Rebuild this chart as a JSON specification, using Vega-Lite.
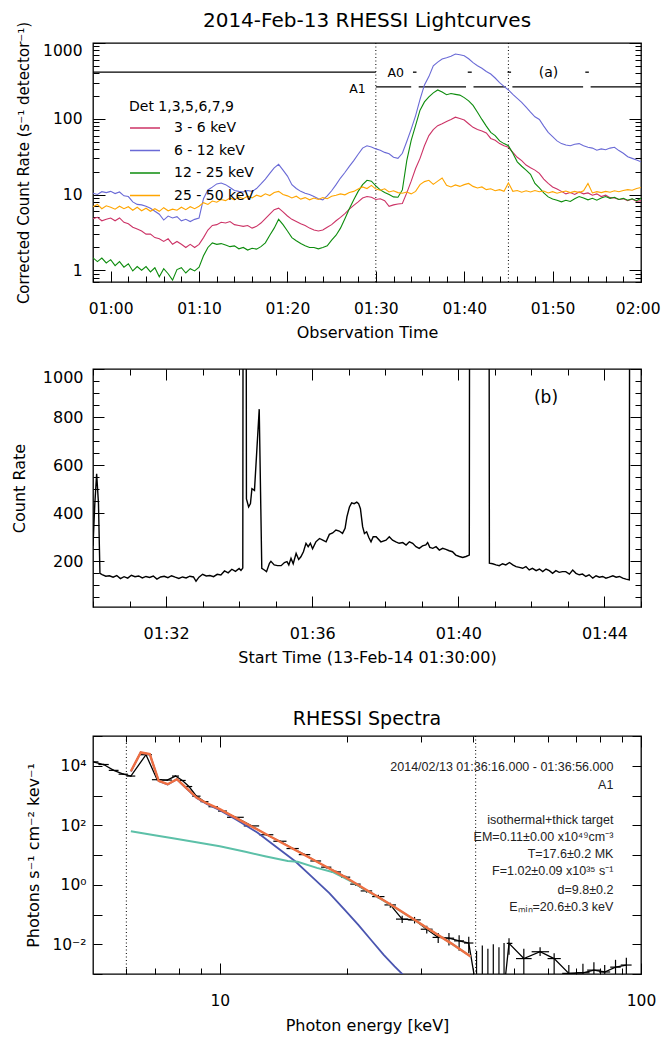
{
"$schema": "https://vega.github.io/schema/vega-lite/v6.json",
"padding": {"left": 10, "top": 10, "right": 0, "bottom": 0},
"spacing": 25,
"config": {
 "font": "DejaVu Sans",
 "view": {"stroke": "black", "strokeWidth": 1.3},
 "axis": {"domain": false, "grid": false, "tickColor": "black", "tickWidth": 1, "labelColor": "black", "titleColor": "black", "labelFontSize": 15.5, "titleFontSize": 16, "titleFontWeight": "normal", "labelOverlap": false, "labelBound": false},
 "title": {"color": "black", "fontWeight": "normal"}
},
"datasets": {
 "lc": [
{"t":58,"r":4.8,"b":10.4,"g":1.46,"o":6.9},{"t":58.5,"r":5.0,"b":10.0,"g":1.30,"o":7.4},{"t":59,"r":4.5,"b":10.9,"g":1.45,"o":6.5},{"t":59.5,"r":4.7,"b":10.6,"g":1.25,"o":7.1},
{"t":60,"r":4.9,"b":11.0,"g":1.38,"o":6.8},{"t":60.5,"r":4.5,"b":10.3,"g":1.15,"o":6.4},{"t":61,"r":4.9,"b":10.8,"g":1.30,"o":7.0},{"t":61.5,"r":4.3,"b":9.6,"g":1.10,"o":6.5},
{"t":62,"r":4.1,"b":9.4,"g":1.22,"o":6.9},{"t":62.5,"r":3.7,"b":8.0,"g":0.98,"o":6.2},{"t":63,"r":3.5,"b":7.4,"g":1.12,"o":6.8},{"t":63.5,"r":3.3,"b":7.3,"g":1.00,"o":6.1},
{"t":64,"r":3.0,"b":7.0,"g":1.12,"o":6.6},{"t":64.5,"r":3.0,"b":6.6,"g":0.95,"o":6.0},{"t":65,"r":2.7,"b":6.0,"g":1.08,"o":6.5},{"t":65.5,"r":2.6,"b":5.5,"g":0.82,"o":6.0},
{"t":66,"r":2.4,"b":4.6,"g":1.05,"o":6.7},{"t":66.5,"r":2.6,"b":5.2,"g":0.90,"o":6.1},{"t":67,"r":2.2,"b":4.9,"g":0.74,"o":6.4},{"t":67.5,"r":2.4,"b":5.1,"g":1.02,"o":6.2},
{"t":68,"r":2.2,"b":4.5,"g":1.08,"o":6.8},{"t":68.5,"r":2.0,"b":4.7,"g":0.92,"o":6.3},{"t":69,"r":2.2,"b":4.4,"g":1.05,"o":6.9},{"t":69.5,"r":2.0,"b":4.7,"g":0.98,"o":6.5},
{"t":70,"r":2.2,"b":4.9,"g":1.10,"o":7.0},{"t":70.5,"r":2.7,"b":8.8,"g":1.55,"o":7.8},{"t":71,"r":3.4,"b":11.5,"g":2.0,"o":7.4},{"t":71.5,"r":3.9,"b":12.5,"g":2.3,"o":8.2},
{"t":72,"r":4.0,"b":13.8,"g":2.2,"o":7.9},{"t":72.5,"r":4.3,"b":14.2,"g":2.25,"o":8.6},{"t":73,"r":4.2,"b":13.5,"g":2.15,"o":8.3},{"t":73.5,"r":4.4,"b":12.4,"g":2.05,"o":9.0},
{"t":74,"r":4.0,"b":11.3,"g":2.1,"o":8.5},{"t":74.5,"r":3.9,"b":11.0,"g":1.92,"o":9.3},{"t":75,"r":3.8,"b":10.8,"g":2.0,"o":8.8},{"t":75.5,"r":3.9,"b":11.3,"g":1.85,"o":9.5},
{"t":76,"r":3.6,"b":11.0,"g":1.95,"o":9.0},{"t":76.5,"r":3.8,"b":12.0,"g":1.90,"o":9.8},{"t":77,"r":4.2,"b":13.8,"g":2.05,"o":9.4},{"t":77.5,"r":4.8,"b":16.0,"g":2.3,"o":10.2},
{"t":78,"r":5.5,"b":19.0,"g":2.9,"o":9.7},{"t":78.5,"r":6.3,"b":22.5,"g":3.6,"o":10.6},{"t":79,"r":6.6,"b":25.0,"g":4.7,"o":11.0},{"t":79.5,"r":5.9,"b":21.0,"g":4.0,"o":10.0},
{"t":80,"r":5.2,"b":17.5,"g":3.3,"o":9.6},{"t":80.5,"r":4.7,"b":13.5,"g":2.7,"o":9.0},{"t":81,"r":4.4,"b":12.0,"g":2.45,"o":9.5},{"t":81.5,"r":4.1,"b":11.0,"g":2.25,"o":8.7},
{"t":82,"r":3.9,"b":10.4,"g":2.1,"o":9.1},{"t":82.5,"r":3.6,"b":10.0,"g":2.0,"o":8.5},{"t":83,"r":3.4,"b":9.4,"g":2.0,"o":9.0},{"t":83.5,"r":3.3,"b":8.8,"g":1.92,"o":8.6},
{"t":84,"r":3.4,"b":8.5,"g":2.0,"o":9.1},{"t":84.5,"r":3.7,"b":9.6,"g":2.1,"o":8.8},{"t":85,"r":4.0,"b":11.2,"g":2.5,"o":9.5},{"t":85.5,"r":4.5,"b":13.5,"g":2.9,"o":9.8},
{"t":86,"r":5.0,"b":16.5,"g":3.6,"o":10.2},{"t":86.5,"r":5.6,"b":19.5,"g":4.8,"o":9.9},{"t":87,"r":6.4,"b":23.5,"g":6.5,"o":10.6},{"t":87.5,"r":7.2,"b":28.0,"g":8.5,"o":11.0},
{"t":88,"r":8.0,"b":34.0,"g":11.0,"o":11.8},{"t":88.5,"r":9.0,"b":41.0,"g":13.5,"o":12.6},{"t":89,"r":9.4,"b":44.0,"g":15.4,"o":12.0},{"t":89.5,"r":9.2,"b":42.5,"g":15.0,"o":13.2},
{"t":90,"r":8.6,"b":40.0,"g":13.0,"o":11.8},{"t":90.5,"r":8.8,"b":38.5,"g":11.5,"o":11.4},{"t":91,"r":8.3,"b":36.0,"g":10.6,"o":11.9},{"t":91.5,"r":7.0,"b":34.5,"g":10.0,"o":10.8},
{"t":92,"r":7.3,"b":31.0,"g":9.3,"o":11.2},{"t":92.5,"r":7.5,"b":30.0,"g":9.2,"o":10.6},{"t":93,"r":7.6,"b":35.0,"g":11.5,"o":10.4},{"t":93.5,"r":10.5,"b":50.0,"g":28.0,"o":10.8},
{"t":94,"r":15.0,"b":73.0,"g":52.0,"o":10.2},{"t":94.5,"r":22.0,"b":110,"g":82,"o":11.0},{"t":95,"r":30.0,"b":180,"g":130,"o":13.5},{"t":95.5,"r":44.0,"b":280,"g":167,"o":14.8},
{"t":96,"r":60.0,"b":360,"g":195,"o":15.4},{"t":96.5,"r":72.0,"b":500,"g":220,"o":13.6},{"t":97,"r":81.0,"b":560,"g":240,"o":15.0},{"t":97.5,"r":86.0,"b":615,"g":225,"o":16.5},
{"t":98,"r":92.0,"b":640,"g":208,"o":13.2},{"t":98.5,"r":98.0,"b":670,"g":215,"o":12.6},{"t":99,"r":105,"b":715,"g":210,"o":13.4},{"t":99.5,"r":101,"b":700,"g":205,"o":12.8},
{"t":100,"r":96.0,"b":680,"g":190,"o":13.5},{"t":100.5,"r":86.0,"b":620,"g":172,"o":14.0},{"t":101,"r":77.0,"b":550,"g":150,"o":12.8},{"t":101.5,"r":72.0,"b":500,"g":122,"o":12.2},
{"t":102,"r":69.0,"b":465,"g":98,"o":12.6},{"t":102.5,"r":65.0,"b":420,"g":80,"o":11.6},{"t":103,"r":55.0,"b":390,"g":66,"o":11.9},{"t":103.5,"r":52.0,"b":345,"g":60,"o":11.2},
{"t":104,"r":47.0,"b":300,"g":51,"o":11.6},{"t":104.5,"r":44.0,"b":268,"g":47,"o":11.0},{"t":105,"r":42.0,"b":240,"g":44,"o":14.2},{"t":105.5,"r":36.0,"b":210,"g":35,"o":11.0},
{"t":106,"r":31.0,"b":186,"g":27,"o":11.3},{"t":106.5,"r":28.0,"b":165,"g":23.6,"o":10.7},{"t":107,"r":24.5,"b":142,"g":21,"o":11.2},{"t":107.5,"r":22.5,"b":122,"g":18.5,"o":10.8},
{"t":108,"r":21.0,"b":106,"g":14.0,"o":11.3},{"t":108.5,"r":19.0,"b":98,"g":12.2,"o":10.9},{"t":109,"r":16.0,"b":80,"g":10.5,"o":11.1},{"t":109.5,"r":14.0,"b":66,"g":9.3,"o":10.5},
{"t":110,"r":12.6,"b":58,"g":8.7,"o":10.9},{"t":110.5,"r":11.8,"b":51,"g":8.4,"o":10.4},{"t":111,"r":11.0,"b":47,"g":8.0,"o":10.8},{"t":111.5,"r":10.2,"b":45,"g":8.4,"o":11.1},
{"t":112,"r":10.6,"b":44,"g":8.1,"o":10.6},{"t":112.5,"r":10.0,"b":46,"g":8.8,"o":11.0},{"t":113,"r":10.8,"b":47,"g":9.4,"o":10.6},{"t":113.5,"r":10.2,"b":44,"g":9.0,"o":11.2},
{"t":114,"r":10.5,"b":42,"g":8.5,"o":14.0},{"t":114.5,"r":9.8,"b":41,"g":8.9,"o":10.5},{"t":115,"r":10.2,"b":38.5,"g":8.4,"o":10.9},{"t":115.5,"r":9.4,"b":40.0,"g":9.0,"o":10.6},
{"t":116,"r":9.8,"b":39.0,"g":9.4,"o":11.0},{"t":116.5,"r":9.1,"b":41.0,"g":8.9,"o":10.7},{"t":117,"r":9.0,"b":42.0,"g":9.2,"o":11.2},{"t":117.5,"r":8.6,"b":38.0,"g":8.6,"o":10.9},
{"t":118,"r":8.8,"b":35.0,"g":8.9,"o":11.3},{"t":118.5,"r":8.3,"b":31.5,"g":8.4,"o":11.6},{"t":119,"r":8.7,"b":30.0,"g":8.8,"o":11.4},{"t":119.5,"r":8.1,"b":28.5,"g":8.3,"o":12.0},
{"t":120,"r":8.3,"b":27.0,"g":8.9,"o":12.4}
 ],
 "att": [
{"t1":58,"t2":90,"lvl":412},
{"t1":94.2,"t2":94.6,"lvl":412},{"t1":100.4,"t2":100.85,"lvl":412},{"t1":104.9,"t2":105.3,"lvl":412},{"t1":113.7,"t2":114.1,"lvl":412},
{"t1":90,"t2":94.0,"lvl":264},{"t1":94.85,"t2":100.2,"lvl":264},{"t1":101.05,"t2":104.7,"lvl":264},{"t1":105.45,"t2":113.45,"lvl":264},{"t1":114.3,"t2":120,"lvl":264}
 ],
 "cr": [
{"t":90.00,"c":265},{"t":90.05,"c":440},{"t":90.10,"c":564},{"t":90.15,"c":440},{"t":90.19,"c":150},{"t":90.25,"c":145},{"t":90.35,"c":138},{"t":90.45,"c":140},
{"t":90.55,"c":134},{"t":90.65,"c":141},{"t":90.75,"c":128},{"t":90.85,"c":136},{"t":90.95,"c":130},{"t":91.05,"c":142},{"t":91.15,"c":136},{"t":91.25,"c":139},
{"t":91.35,"c":131},{"t":91.45,"c":137},{"t":91.55,"c":133},{"t":91.65,"c":139},{"t":91.75,"c":126},{"t":91.85,"c":135},{"t":91.95,"c":138},{"t":92.05,"c":132},
{"t":92.15,"c":140},{"t":92.25,"c":134},{"t":92.35,"c":129},{"t":92.45,"c":135},{"t":92.55,"c":131},{"t":92.65,"c":138},{"t":92.75,"c":135},{"t":92.82,"c":117},
{"t":92.90,"c":134},{"t":93.00,"c":146},{"t":93.10,"c":139},{"t":93.20,"c":141},{"t":93.30,"c":136},{"t":93.40,"c":146},{"t":93.50,"c":143},{"t":93.60,"c":160},
{"t":93.70,"c":152},{"t":93.80,"c":167},{"t":93.90,"c":158},{"t":94.00,"c":170},{"t":94.05,"c":162},{"t":94.10,"c":172},{"t":94.12,"c":3000},{"t":94.18,"c":3000},
{"t":94.20,"c":460},{"t":94.26,"c":426},{"t":94.31,"c":440},{"t":94.35,"c":502},{"t":94.42,"c":495},{"t":94.55,"c":833},{"t":94.62,"c":171},{"t":94.69,"c":164},
{"t":94.75,"c":157},{"t":94.83,"c":192},{"t":94.87,"c":200},{"t":94.96,"c":185},{"t":95.05,"c":182},{"t":95.15,"c":182},{"t":95.24,"c":195},{"t":95.31,"c":199},
{"t":95.36,"c":185},{"t":95.42,"c":213},{"t":95.48,"c":190},{"t":95.56,"c":233},{"t":95.63,"c":208},{"t":95.69,"c":219},{"t":95.76,"c":240},{"t":95.83,"c":275},
{"t":95.89,"c":261},{"t":95.95,"c":275},{"t":96.01,"c":252},{"t":96.10,"c":281},{"t":96.20,"c":295},{"t":96.29,"c":288},{"t":96.38,"c":281},{"t":96.47,"c":312},
{"t":96.56,"c":318},{"t":96.65,"c":330},{"t":96.74,"c":326},{"t":96.83,"c":316},{"t":96.90,"c":337},{"t":96.95,"c":385},{"t":97.02,"c":426},{"t":97.08,"c":443},
{"t":97.15,"c":440},{"t":97.22,"c":446},{"t":97.27,"c":440},{"t":97.32,"c":419},{"t":97.38,"c":344},{"t":97.43,"c":316},{"t":97.49,"c":323},{"t":97.55,"c":299},
{"t":97.61,"c":281},{"t":97.67,"c":302},{"t":97.75,"c":302},{"t":97.88,"c":281},{"t":98.02,"c":288},{"t":98.11,"c":302},{"t":98.20,"c":288},{"t":98.29,"c":281},
{"t":98.38,"c":275},{"t":98.48,"c":278},{"t":98.57,"c":268},{"t":98.66,"c":281},{"t":98.75,"c":275},{"t":98.84,"c":261},{"t":98.93,"c":254},{"t":99.02,"c":264},
{"t":99.11,"c":268},{"t":99.16,"c":278},{"t":99.22,"c":258},{"t":99.30,"c":254},{"t":99.39,"c":261},{"t":99.48,"c":247},{"t":99.57,"c":254},{"t":99.66,"c":250},
{"t":99.75,"c":244},{"t":99.84,"c":240},{"t":99.93,"c":226},{"t":100.03,"c":220},{"t":100.12,"c":216},{"t":100.21,"c":220},{"t":100.30,"c":226},{"t":100.32,"c":3000},
{"t":100.83,"c":3000},{"t":100.85,"c":192},{"t":100.94,"c":190},{"t":101.03,"c":185},{"t":101.12,"c":182},{"t":101.21,"c":190},{"t":101.30,"c":185},{"t":101.40,"c":195},
{"t":101.49,"c":185},{"t":101.58,"c":178},{"t":101.67,"c":175},{"t":101.76,"c":171},{"t":101.85,"c":178},{"t":101.94,"c":164},{"t":102.03,"c":171},{"t":102.13,"c":161},
{"t":102.22,"c":168},{"t":102.31,"c":157},{"t":102.40,"c":168},{"t":102.49,"c":161},{"t":102.58,"c":150},{"t":102.67,"c":161},{"t":102.76,"c":154},{"t":102.85,"c":157},
{"t":102.94,"c":157},{"t":103.04,"c":147},{"t":103.13,"c":164},{"t":103.22,"c":150},{"t":103.31,"c":144},{"t":103.40,"c":147},{"t":103.49,"c":137},{"t":103.58,"c":144},
{"t":103.68,"c":130},{"t":103.77,"c":140},{"t":103.86,"c":134},{"t":103.95,"c":137},{"t":104.04,"c":130},{"t":104.13,"c":134},{"t":104.23,"c":140},{"t":104.32,"c":134},
{"t":104.41,"c":137},{"t":104.50,"c":130},{"t":104.59,"c":126},{"t":104.68,"c":123},{"t":104.70,"c":3000},{"t":105.00,"c":3000}
 ],
 "spec": [
{"e":5.0,"e1":4.85,"e2":5.15,"f":13500,"f1":12800,"f2":14200},{"e":5.3,"e1":5.15,"e2":5.45,"f":11000,"f1":10400,"f2":11600},
{"e":5.6,"e1":5.45,"e2":5.75,"f":7000,"f1":6600,"f2":7400},{"e":5.9,"e1":5.75,"e2":6.05,"f":5200,"f1":4900,"f2":5500},
{"e":6.15,"e1":6.0,"e2":6.3,"f":4500,"f1":4250,"f2":4750},{"e":6.68,"e1":6.46,"e2":6.9,"f":23500,"f1":22800,"f2":24200},
{"e":7.1,"e1":6.9,"e2":7.3,"f":3400,"f1":3250,"f2":3550},{"e":7.5,"e1":7.3,"e2":7.7,"f":3300,"f1":3150,"f2":3450},
{"e":7.85,"e1":7.7,"e2":8.0,"f":4500,"f1":4300,"f2":4700},{"e":8.15,"e1":8.0,"e2":8.3,"f":3200,"f1":3050,"f2":3350},
{"e":8.45,"e1":8.3,"e2":8.6,"f":2000,"f1":1900,"f2":2100},{"e":8.8,"e1":8.6,"e2":9.0,"f":950,"f1":900,"f2":1000},
{"e":9.2,"e1":9.0,"e2":9.4,"f":620,"f1":590,"f2":650},{"e":9.65,"e1":9.4,"e2":9.9,"f":420,"f1":400,"f2":440},
{"e":10.15,"e1":9.9,"e2":10.4,"f":300,"f1":285,"f2":315},{"e":10.9,"e1":10.4,"e2":11.4,"f":185,"f1":176,"f2":194},
{"e":11.9,"e1":11.4,"e2":12.4,"f":95,"f1":90,"f2":100},{"e":12.9,"e1":12.4,"e2":13.4,"f":48,"f1":45.5,"f2":50.5},
{"e":13.9,"e1":13.4,"e2":14.4,"f":29,"f1":27.4,"f2":30.6},{"e":14.9,"e1":14.4,"e2":15.4,"f":16.5,"f1":15.5,"f2":17.5},
{"e":15.9,"e1":15.4,"e2":16.4,"f":10.3,"f1":9.6,"f2":11},{"e":16.9,"e1":16.4,"e2":17.4,"f":6.3,"f1":5.8,"f2":6.8},
{"e":17.9,"e1":17.4,"e2":18.4,"f":3.9,"f1":3.55,"f2":4.25},{"e":18.9,"e1":18.4,"e2":19.4,"f":2.7,"f1":2.45,"f2":2.95},
{"e":19.9,"e1":19.4,"e2":20.4,"f":1.8,"f1":1.6,"f2":2.0},{"e":21.0,"e1":20.4,"e2":21.6,"f":1.05,"f1":0.93,"f2":1.17},
{"e":22.3,"e1":21.6,"e2":23.0,"f":0.62,"f1":0.54,"f2":0.70},{"e":23.8,"e1":23.0,"e2":24.6,"f":0.40,"f1":0.34,"f2":0.46},
{"e":25.4,"e1":24.6,"e2":26.2,"f":0.21,"f1":0.17,"f2":0.25},{"e":27.1,"e1":26.2,"e2":28.0,"f":0.07,"f1":0.052,"f2":0.09},
{"e":29.0,"e1":28.0,"e2":30.0,"f":0.066,"f1":0.05,"f2":0.083},{"e":31.0,"e1":30.0,"e2":32.0,"f":0.032,"f1":0.023,"f2":0.042},
{"e":33.0,"e1":32.0,"e2":34.0,"f":0.017,"f1":0.011,"f2":0.024},{"e":35.0,"e1":34.0,"e2":36.0,"f":0.016,"f1":0.009,"f2":0.024},
{"e":37.0,"e1":36.0,"e2":38.0,"f":0.013,"f1":0.006,"f2":0.02},{"e":39.0,"e1":38.0,"e2":40.0,"f":0.011,"f1":0.005,"f2":0.018},
{"e":40.7,"e1":40.0,"e2":41.4,"f":0.0003,"f1":0.0001,"f2":0.006},{"e":42.0,"e1":41.4,"e2":42.7,"f":0.0003,"f1":0.0001,"f2":0.009},
{"e":43.3,"e1":42.7,"e2":44.0,"f":0.0003,"f1":0.0001,"f2":0.007},{"e":44.6,"e1":44.0,"e2":45.3,"f":0.0003,"f1":0.0001,"f2":0.01},
{"e":46.0,"e1":45.3,"e2":46.7,"f":0.0003,"f1":0.0001,"f2":0.008},{"e":47.3,"e1":46.7,"e2":48.0,"f":0.0003,"f1":0.0001,"f2":0.011},
{"e":48.6,"e1":48.0,"e2":49.5,"f":0.0107,"f1":0.0044,"f2":0.016},{"e":52.7,"e1":50.5,"e2":55.0,"f":0.0033,"f1":0.0002,"f2":0.007},
{"e":57.6,"e1":55.0,"e2":60.5,"f":0.0056,"f1":0.004,"f2":0.008},{"e":62.2,"e1":60.0,"e2":64.5,"f":0.0033,"f1":0.0002,"f2":0.005},
{"e":67.4,"e1":65.0,"e2":70.0,"f":0.00105,"f1":0.0002,"f2":0.002},{"e":72.8,"e1":70.0,"e2":75.5,"f":0.0011,"f1":0.0002,"f2":0.0022},
{"e":77.3,"e1":74.5,"e2":80.0,"f":0.00135,"f1":0.0002,"f2":0.0025},{"e":82.0,"e1":79.5,"e2":84.5,"f":0.00117,"f1":0.0002,"f2":0.002},
{"e":87.0,"e1":84.5,"e2":89.5,"f":0.0017,"f1":0.0002,"f2":0.003},{"e":92.3,"e1":89.5,"e2":95.0,"f":0.002,"f1":0.0002,"f2":0.0035}
 ],
 "total": [
{"e":6.15,"f":6500},{"e":6.49,"f":28000},{"e":6.82,"f":24500},{"e":7.16,"f":3100},{"e":7.52,"f":2400},{"e":7.91,"f":3550},{"e":8.30,"f":1860},{"e":8.81,"f":850},
{"e":9.33,"f":540},{"e":10.0,"f":347},{"e":11.0,"f":167},{"e":12.6,"f":59},{"e":14.0,"f":26.4},{"e":15.3,"f":13.3},{"e":17.4,"f":5.0},{"e":19.7,"f":1.92},
{"e":22.4,"f":0.645},{"e":25.5,"f":0.214},{"e":28.2,"f":0.085},{"e":31.6,"f":0.030},{"e":35.5,"f":0.0105},{"e":39.4,"f":0.0039}
 ],
 "thermal": [
{"e":6.15,"f":6400},{"e":6.49,"f":27800},{"e":6.82,"f":24300},{"e":7.16,"f":3050},{"e":7.52,"f":2350},{"e":7.91,"f":3500},{"e":8.30,"f":1820},{"e":8.81,"f":820},
{"e":9.33,"f":510},{"e":10.0,"f":320},{"e":11.0,"f":148},{"e":12.3,"f":56},{"e":13.5,"f":20.6},{"e":15.1,"f":6.17},{"e":16.6,"f":1.77},{"e":18.2,"f":0.525},
{"e":19.8,"f":0.142},{"e":21.3,"f":0.0457},{"e":23.0,"f":0.0126},{"e":24.5,"f":0.00437},{"e":26.0,"f":0.0018},{"e":27.3,"f":0.00091},{"e":28.5,"f":0.00048}
 ],
 "thick": [
{"e":6.15,"f":63},{"e":7.0,"f":46},{"e":7.8,"f":35.6},{"e":8.8,"f":26.7},{"e":10.0,"f":19.6},{"e":11.5,"f":12.9},{"e":12.8,"f":9.1},{"e":14.5,"f":6.3},
{"e":15.3,"f":5.9},{"e":17.0,"f":3.7},{"e":18.5,"f":2.7},{"e":19.7,"f":1.75},{"e":20.6,"f":1.25},{"e":22.4,"f":0.62},{"e":25.5,"f":0.207},{"e":28.2,"f":0.084},
{"e":31.6,"f":0.030},{"e":35.5,"f":0.0105},{"e":39.4,"f":0.0039}
 ]
},
"vconcat": [
 {
  "width": 548, "height": 239,
  "title": {"text": "2014-Feb-13 RHESSI Lightcurves", "fontSize": 20, "offset": -10, "anchor": "middle", "frame": "group"},
  "layer": [
   {
    "data": {"name": "att"},
    "mark": {"type": "rule", "color": "black", "strokeWidth": 1.3},
    "encoding": {
     "x": {"field": "t1", "type": "quantitative", "scale": {"domain": [58, 120], "nice": false, "zero": false}, "axis": null},
     "x2": {"field": "t2"},
     "y": {"field": "lvl", "type": "quantitative", "scale": {"type": "log", "domain": [0.7, 1000], "nice": false}, "axis": null}
    }
   },
   {
    "data": {"values": [{"t": 87.92, "v": 246, "s": "A1"}, {"t": 92.24, "v": 400, "s": "A0"}]},
    "mark": {"type": "text", "fontSize": 12.5, "color": "black", "align": "center", "baseline": "middle"},
    "encoding": {
     "x": {"field": "t", "type": "quantitative", "scale": {"domain": [58, 120], "nice": false, "zero": false}, "axis": null},
     "y": {"field": "v", "type": "quantitative", "scale": {"type": "log", "domain": [0.7, 1000], "nice": false}, "axis": null},
     "text": {"field": "s"}
    }
   },
   {
    "data": {"values": [{"t": 109.54, "v": 400, "s": "(a)"}]},
    "mark": {"type": "text", "fontSize": 14, "color": "black", "align": "center", "baseline": "middle"},
    "encoding": {
     "x": {"field": "t", "type": "quantitative", "scale": {"domain": [58, 120], "nice": false, "zero": false}, "axis": null},
     "y": {"field": "v", "type": "quantitative", "scale": {"type": "log", "domain": [0.7, 1000], "nice": false}, "axis": null},
     "text": {"field": "s"}
    }
   },
   {
    "data": {"values": [{"t": 90}, {"t": 105}]},
    "mark": {"type": "rule", "color": "black", "strokeWidth": 1, "strokeDash": [1, 2.5]},
    "encoding": {
     "x": {"field": "t", "type": "quantitative", "scale": {"domain": [58, 120], "nice": false, "zero": false}, "axis": null}
    }
   },
   {
    "data": {"name": "lc"},
    "transform": [{"fold": ["r", "b", "g", "o"], "as": ["band", "v"]}],
    "mark": {"type": "line", "strokeWidth": 1.1, "clip": true},
    "encoding": {
     "x": {"field": "t", "type": "quantitative", "scale": {"domain": [58, 120], "nice": false, "zero": false},
      "axis": {"orient": "bottom", "values": [58,60,62,64,66,68,70,72,74,76,78,80,82,84,86,88,90,92,94,96,98,100,102,104,106,108,110,112,114,116,118,120],
       "labelExpr": "datum.value % 10 == 0 ? ('0' + floor(datum.value / 60) + ':' + (datum.value % 60 == 0 ? '00' : '' + (datum.value % 60))) : ''",
       "tickSize": {"condition": {"test": "datum.value % 10 == 0", "value": -11}, "value": -6},
       "labelPadding": 30, "labelFlush": true, "labelFlushOffset": 19, "title": "Observation Time", "titlePadding": 3}},
     "y": {"field": "v", "type": "quantitative", "scale": {"type": "log", "domain": [0.7, 1000], "nice": false},
      "axis": {"orient": "left", "values": [0.7,0.8,0.9,1,2,3,4,5,6,7,8,9,10,20,30,40,50,60,70,80,90,100,200,300,400,500,600,700,800,900,1000],
       "labelExpr": "(datum.value == 1 || datum.value == 10 || datum.value == 100 || datum.value == 1000) ? ('' + datum.value) : ''",
       "tickSize": {"condition": {"test": "datum.value == 1 || datum.value == 10 || datum.value == 100 || datum.value == 1000", "value": -12}, "value": -6},
       "labelPadding": 23, "labelFlush": true, "title": "Corrected Count Rate (s⁻¹ detector⁻¹)", "titleFontSize": 15, "titlePadding": 11}},
     "color": {"field": "band", "type": "nominal",
      "scale": {"domain": ["r", "b", "g", "o"], "range": ["#cc3366", "#6a6ad6", "#0d8c0d", "#ffa500"]},
      "legend": {"orient": "none", "legendX": 36, "legendY": 57, "padding": 0, "title": "Det 1,3,5,6,7,9",
       "titleFontSize": 14, "titleFontWeight": "normal", "titleColor": "black", "titlePadding": 5,
       "labelFontSize": 14, "labelColor": "black", "labelOffset": 13,
       "symbolType": "stroke", "symbolSize": 900, "symbolStrokeWidth": 1.5, "clipHeight": 18, "rowPadding": 4.5,
       "labelExpr": "datum.label == 'r' ? '3 - 6 keV' : datum.label == 'b' ? '6 - 12 keV' : datum.label == 'g' ? '12 - 25 keV' : '25 - 50 keV'"}}
    }
   },
   {
    "data": {"values": [{"t": 58, "v": 1}]},
    "mark": {"type": "point", "opacity": 0},
    "encoding": {
     "x": {"field": "t", "type": "quantitative", "scale": {"domain": [58, 120], "nice": false, "zero": false}, "axis": null},
     "y": {"field": "v", "type": "quantitative", "scale": {"type": "log", "domain": [0.7, 1000], "nice": false},
      "axis": {"orient": "right", "values": [0.7,0.8,0.9,1,2,3,4,5,6,7,8,9,10,20,30,40,50,60,70,80,90,100,200,300,400,500,600,700,800,900,1000],
       "labels": false, "title": null,
       "tickSize": {"condition": {"test": "datum.value == 1 || datum.value == 10 || datum.value == 100 || datum.value == 1000", "value": -12}, "value": -6}}}
    }
   }
  ],
  "resolve": {"axis": {"x": "independent", "y": "independent"}}
 },
 {
  "width": 548, "height": 238,
  "layer": [
   {
    "data": {"name": "cr"},
    "mark": {"type": "line", "color": "black", "strokeWidth": 1.4, "clip": true},
    "encoding": {
     "x": {"field": "t", "type": "quantitative", "scale": {"domain": [90, 105], "nice": false, "zero": false},
      "axis": {"orient": "bottom", "values": [90,91,92,93,94,95,96,97,98,99,100,101,102,103,104,105],
       "labelExpr": "(datum.value - 88) % 4 == 0 ? ('01:' + (datum.value - 60)) : ''",
       "tickSize": {"condition": {"test": "(datum.value - 88) % 4 == 0", "value": -11}, "value": -6},
       "labelFontSize": 16, "labelPadding": 29, "labelFlush": false, "title": "Start Time (13-Feb-14 01:30:00)", "titlePadding": 3}},
     "y": {"field": "c", "type": "quantitative", "scale": {"domain": [10, 1000], "nice": false, "zero": false},
      "axis": {"orient": "left", "values": [50,100,150,200,250,300,350,400,450,500,550,600,650,700,750,800,850,900,950,1000],
       "labelExpr": "datum.value % 200 == 0 ? ('' + datum.value) : ''",
       "tickSize": {"condition": {"test": "datum.value % 200 == 0", "value": -11}, "value": -6},
       "labelFontSize": 16, "labelPadding": 21, "labelFlush": true, "title": "Count Rate", "titlePadding": 15}}
    }
   },
   {
    "data": {"values": [{"t": 102.4, "c": 881, "s": "(b)"}]},
    "mark": {"type": "text", "fontSize": 17, "color": "black", "align": "center", "baseline": "middle"},
    "encoding": {
     "x": {"field": "t", "type": "quantitative", "scale": {"domain": [90, 105], "nice": false, "zero": false}, "axis": null},
     "y": {"field": "c", "type": "quantitative", "scale": {"domain": [10, 1000], "nice": false, "zero": false}, "axis": null},
     "text": {"field": "s"}
    }
   },
   {
    "data": {"values": [{"t": 90, "c": 100}]},
    "mark": {"type": "point", "opacity": 0},
    "encoding": {
     "x": {"field": "t", "type": "quantitative", "scale": {"domain": [90, 105], "nice": false, "zero": false},
      "axis": {"orient": "top", "values": [90,91,92,93,94,95,96,97,98,99,100,101,102,103,104,105], "labels": false, "title": null,
       "tickSize": {"condition": {"test": "(datum.value - 88) % 4 == 0", "value": -11}, "value": -6}}},
     "y": {"field": "c", "type": "quantitative", "scale": {"domain": [10, 1000], "nice": false, "zero": false},
      "axis": {"orient": "right", "values": [50,100,150,200,250,300,350,400,450,500,550,600,650,700,750,800,850,900,950,1000], "labels": false, "title": null,
       "tickSize": {"condition": {"test": "datum.value % 200 == 0", "value": -11}, "value": -6}}}
    }
   }
  ],
  "resolve": {"axis": {"x": "independent", "y": "independent"}}
 },
 {
  "width": 548, "height": 238,
  "title": {"text": ["", "RHESSI Spectra"], "fontSize": 19, "lineHeight": 18, "offset": 0, "anchor": "middle", "frame": "group"},
  "layer": [
   {
    "data": {"values": [{"e": 6}, {"e": 40.5}]},
    "mark": {"type": "rule", "color": "black", "strokeWidth": 1, "strokeDash": [1, 2.5]},
    "encoding": {
     "x": {"field": "e", "type": "quantitative", "scale": {"type": "log", "domain": [5, 100], "nice": false}, "axis": null}
    }
   },
   {
    "data": {"name": "spec"},
    "mark": {"type": "line", "color": "black", "strokeWidth": 1.3, "clip": true},
    "encoding": {
     "x": {"field": "e", "type": "quantitative", "scale": {"type": "log", "domain": [5, 100], "nice": false},
      "axis": {"orient": "bottom", "values": [6,7,8,9,10,20,30,40,50,60,70,80,90,100],
       "labelExpr": "(datum.value == 10 || datum.value == 100) ? ('' + datum.value) : ''",
       "tickSize": {"condition": {"test": "datum.value == 10 || datum.value == 100", "value": -11}, "value": -6},
       "labelPadding": 30, "labelFlush": false, "title": "Photon energy [keV]", "titlePadding": 4}},
     "y": {"field": "f", "type": "quantitative", "scale": {"type": "log", "domain": [0.001, 100000], "nice": false},
      "axis": {"orient": "left", "values": [0.001,0.01,0.1,1,10,100,1000,10000,100000],
       "labelExpr": "datum.value == 10000 ? '10⁴' : datum.value == 100 ? '10²' : datum.value == 1 ? '10⁰' : datum.value == 0.01 ? '10⁻²' : ''",
       "tickSize": -9, "labelPadding": 16, "title": "Photons s⁻¹ cm⁻² kev⁻¹", "titlePadding": 10}}
    }
   },
   {
    "data": {"name": "spec"},
    "mark": {"type": "rule", "color": "black", "strokeWidth": 1.2, "clip": true},
    "encoding": {
     "x": {"field": "e1", "type": "quantitative", "scale": {"type": "log", "domain": [5, 100], "nice": false}, "axis": null},
     "x2": {"field": "e2"},
     "y": {"field": "f", "type": "quantitative", "scale": {"type": "log", "domain": [0.001, 100000], "nice": false}, "axis": null}
    }
   },
   {
    "data": {"name": "spec"},
    "mark": {"type": "rule", "color": "black", "strokeWidth": 1.2, "clip": true},
    "encoding": {
     "x": {"field": "e", "type": "quantitative", "scale": {"type": "log", "domain": [5, 100], "nice": false}, "axis": null},
     "y": {"field": "f1", "type": "quantitative", "scale": {"type": "log", "domain": [0.001, 100000], "nice": false}, "axis": null},
     "y2": {"field": "f2"}
    }
   },
   {
    "data": {"name": "thermal"},
    "mark": {"type": "line", "color": "#4a55b0", "strokeWidth": 1.8, "clip": true},
    "encoding": {
     "x": {"field": "e", "type": "quantitative", "scale": {"type": "log", "domain": [5, 100], "nice": false}, "axis": null},
     "y": {"field": "f", "type": "quantitative", "scale": {"type": "log", "domain": [0.001, 100000], "nice": false}, "axis": null}
    }
   },
   {
    "data": {"name": "thick"},
    "mark": {"type": "line", "color": "#5cc0a8", "strokeWidth": 2, "clip": true},
    "encoding": {
     "x": {"field": "e", "type": "quantitative", "scale": {"type": "log", "domain": [5, 100], "nice": false}, "axis": null},
     "y": {"field": "f", "type": "quantitative", "scale": {"type": "log", "domain": [0.001, 100000], "nice": false}, "axis": null}
    }
   },
   {
    "data": {"name": "total"},
    "mark": {"type": "line", "color": "#ef6f42", "strokeWidth": 2.4, "clip": true},
    "encoding": {
     "x": {"field": "e", "type": "quantitative", "scale": {"type": "log", "domain": [5, 100], "nice": false}, "axis": null},
     "y": {"field": "f", "type": "quantitative", "scale": {"type": "log", "domain": [0.001, 100000], "nice": false}, "axis": null}
    }
   },
   {
    "data": {"values": [
     {"e": 86, "f": 9250, "s": "2014/02/13 01:36:16.000 - 01:36:56.000"},
     {"e": 86, "f": 2300, "s": "A1"},
     {"e": 86, "f": 155, "s": "isothermal+thick target"},
     {"e": 86, "f": 41.4, "s": "EM=0.11±0.00 x10⁴⁹cm⁻³"},
     {"e": 86, "f": 11.1, "s": "T=17.6±0.2 MK"},
     {"e": 86, "f": 3.0, "s": "F=1.02±0.09 x10³⁵ s⁻¹"},
     {"e": 86, "f": 0.69, "s": "d=9.8±0.2"},
     {"e": 86, "f": 0.172, "s": "Eₘᵢₙ=20.6±0.3 keV"}
    ]},
    "mark": {"type": "text", "fontSize": 12.5, "font": "Liberation Sans", "color": "#222222", "align": "right", "baseline": "middle"},
    "encoding": {
     "x": {"field": "e", "type": "quantitative", "scale": {"type": "log", "domain": [5, 100], "nice": false}, "axis": null},
     "y": {"field": "f", "type": "quantitative", "scale": {"type": "log", "domain": [0.001, 100000], "nice": false}, "axis": null},
     "text": {"field": "s"}
    }
   },
   {
    "data": {"values": [{"e": 10, "f": 1}]},
    "mark": {"type": "point", "opacity": 0},
    "encoding": {
     "x": {"field": "e", "type": "quantitative", "scale": {"type": "log", "domain": [5, 100], "nice": false},
      "axis": {"orient": "top", "values": [6,7,8,9,10,20,30,40,50,60,70,80,90,100], "labels": false, "title": null,
       "tickSize": {"condition": {"test": "datum.value == 10 || datum.value == 100", "value": -11}, "value": -6}}},
     "y": {"field": "f", "type": "quantitative", "scale": {"type": "log", "domain": [0.001, 100000], "nice": false},
      "axis": {"orient": "right", "values": [0.001,0.01,0.1,1,10,100,1000,10000,100000], "labels": false, "title": null, "tickSize": -9}}
    }
   }
  ],
  "resolve": {"axis": {"x": "independent", "y": "independent"}}
 }
]
}
